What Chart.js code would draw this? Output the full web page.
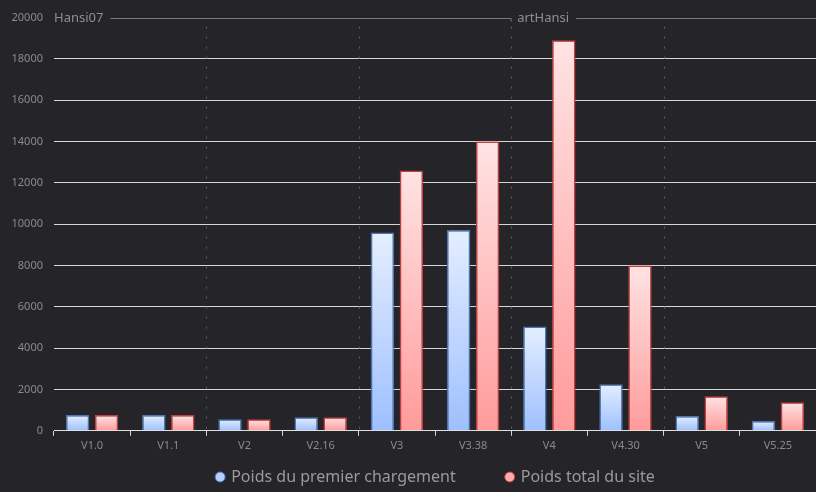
<!DOCTYPE html>
<html lang="fr">
<head>
<meta charset="UTF-8">
<title>Poids du site</title>
<script src="https://cdn.jsdelivr.net/npm/chart.js"></script>
<style>
  html, body { margin: 0; padding: 0; background: #252429; }
  #wrap { width: 816px; height: 492px; }
</style>
</head>
<body>
<div id="wrap"><canvas id="myChart"></canvas></div>
<script>
    // versions du site
    var versions = ['V1.0', 'V1.1', 'V2', 'V2.16', 'V3', 'V3.38', 'V4', 'V4.30', 'V5', 'V5.25'];
    var premierChargement = [770, 770, 565, 660, 9600, 9720, 5050, 2250, 720, 470];
    var poidsTotal = [770, 770, 560, 660, 12600, 14000, 18900, 8000, 1670, 1380];

    // sections en haut du graphique
    var sectionLabels = ['Hansi07', 'artHansi'];
    var sectionStart = [0, 6];
    // lignes pointillees apres ces index
    var dividerAfter = [1, 3, 5, 7];

    var yMax = 20000;
    var yStep = 2000;

    var legendFill = ['#b4d0ff', '#ffaaaa'];
    var legendBorder = ['#4b75b4', '#c63c3c'];

    var FONT = '"Noto Sans", "Open Sans", sans-serif';

    function barGradient(ctx, top, bottom) {
        var chart = ctx.chart;
        if (!chart.scales || !chart.scales.y || ctx.raw === undefined) return bottom;
        var y = chart.scales.y;
        var y0 = y.getPixelForValue(ctx.raw);
        var y1 = y.getPixelForValue(0);
        if (!isFinite(y0) || !isFinite(y1) || y0 === y1) return bottom;
        var g = chart.ctx.createLinearGradient(0, y0, 0, y1);
        g.addColorStop(0, top);
        g.addColorStop(1, bottom);
        return g;
    }

    var sectionsPlugin = {
        id: 'sections',
        beforeDatasetsDraw: function(chart) {
            var ctx = chart.ctx, area = chart.chartArea, x = chart.scales.x;
            ctx.save();
            ctx.strokeStyle = '#5e5e62';
            ctx.lineWidth = 1;
            ctx.setLineDash([2, 8]);
            dividerAfter.forEach(function(i) {
                var px = Math.round((x.getPixelForValue(i) + x.getPixelForValue(i + 1)) / 2) + 0.5;
                ctx.beginPath();
                ctx.moveTo(px, area.top + 9);
                ctx.lineTo(px, area.bottom);
                ctx.stroke();
            });
            ctx.restore();
        },
        afterDraw: function(chart) {
            var ctx = chart.ctx, area = chart.chartArea, x = chart.scales.x;
            var half = (x.getPixelForValue(1) - x.getPixelForValue(0)) / 2;
            var yTop = Math.round(area.top) + 0.5;
            ctx.save();
            ctx.font = '13px ' + FONT;
            ctx.textBaseline = 'middle';
            ctx.fillStyle = '#8e8e92';
            ctx.strokeStyle = '#7a7a7e';
            ctx.lineWidth = 1;
            for (var i = 0; i < sectionLabels.length; i++) {
                var start = x.getPixelForValue(sectionStart[i]) - half;
                var end = i + 1 < sectionLabels.length ? x.getPixelForValue(sectionStart[i + 1]) - half : area.right;
                var tx = start + (i === 0 ? 0 : 6);
                ctx.fillText(sectionLabels[i], tx, yTop);
                var w = ctx.measureText(sectionLabels[i]).width;
                ctx.beginPath();
                ctx.moveTo(tx + w + 7, yTop);
                ctx.lineTo(end, yTop);
                if (i + 1 < sectionLabels.length) ctx.lineTo(end, yTop + 3);
                ctx.stroke();
            }
            ctx.restore();
        }
    };

    // legende dessinee a la main (espacement large entre les items)
    var legendPlugin = {
        id: 'bottomLegend',
        afterDraw: function(chart) {
            var ctx = chart.ctx, area = chart.chartArea;
            var r = 5, gapText = 6, gapItem = 49;
            var y = 477;
            ctx.save();
            ctx.font = '16px ' + FONT;
            ctx.textBaseline = 'middle';
            var widths = chart.data.datasets.map(function(ds) {
                return 2 * r + gapText + ctx.measureText(ds.label).width;
            });
            var total = widths.reduce(function(a, b) { return a + b; }, 0) + gapItem * (widths.length - 1);
            var cx = (area.left + area.right) / 2 - total / 2;
            chart.data.datasets.forEach(function(ds, i) {
                ctx.beginPath();
                ctx.arc(cx + r, y, r, 0, Math.PI * 2);
                ctx.fillStyle = legendFill[i];
                ctx.fill();
                ctx.lineWidth = 1;
                ctx.strokeStyle = legendBorder[i];
                ctx.stroke();
                ctx.fillStyle = '#9a9a9e';
                ctx.fillText(ds.label, cx + 2 * r + gapText, y);
                cx += widths[i] + gapItem;
            });
            ctx.restore();
        }
    };

    new Chart('myChart', {
        type: 'bar',
        data: {
            labels: versions,
            datasets: [{
                label: 'Poids du premier chargement',
                data: premierChargement,
                backgroundColor: function(ctx) { return barGradient(ctx, '#e4eeff', '#9ec0ff'); },
                borderColor: '#4b75b4',
                borderWidth: 1.5,
                borderSkipped: 'bottom',
                categoryPercentage: 0.76,
                barPercentage: 0.81
            }, {
                label: 'Poids total du site',
                data: poidsTotal,
                backgroundColor: function(ctx) { return barGradient(ctx, '#ffe3e3', '#ff9b9b'); },
                borderColor: '#c63c3c',
                borderWidth: 1.5,
                borderSkipped: 'bottom',
                categoryPercentage: 0.76,
                barPercentage: 0.81
            }]
        },
        options: {
            responsive: true,
            maintainAspectRatio: false,
            animation: false,
            layout: { padding: { top: 4, right: 0, left: 0, bottom: 37 } },
            scales: {
                x: {
                    grid: {
                        offset: true,
                        drawOnChartArea: false,
                        drawTicks: true,
                        tickLength: 5,
                        color: '#d8d8d8'
                    },
                    border: { color: '#e0e0e0', width: 1 },
                    ticks: {
                        color: '#8a8a90',
                        padding: 3,
                        font: { family: FONT, size: 11 }
                    }
                },
                y: {
                    min: 0,
                    max: yMax,
                    afterFit: function(scale) { scale.width = 54; },
                    grid: {
                        drawTicks: false,
                        color: function(c) { return c.tick && c.tick.value === yMax ? 'rgba(0,0,0,0)' : '#d6d6d6'; }
                    },
                    border: { display: false },
                    ticks: {
                        stepSize: yStep,
                        padding: 11,
                        color: '#8a8a90',
                        font: { family: FONT, size: 11 },
                        callback: function(v) { return String(v); }
                    }
                }
            },
            plugins: {
                tooltip: { enabled: false },
                legend: { display: false }
            }
        },
        plugins: [sectionsPlugin, legendPlugin]
    });
</script>
</body>
</html>
